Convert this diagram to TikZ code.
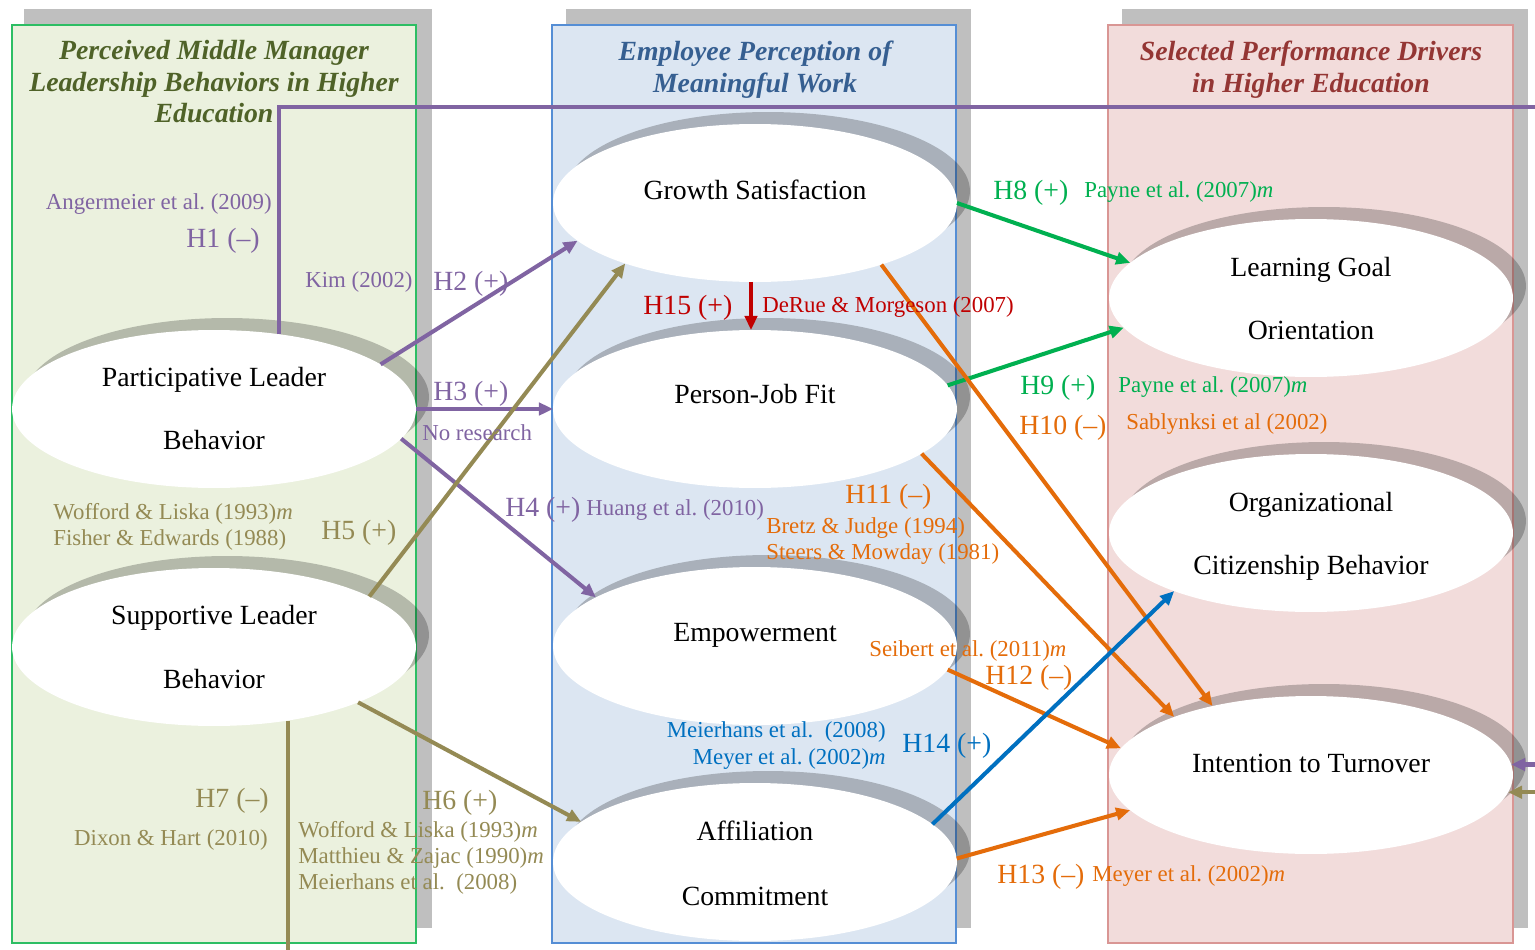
\documentclass[tikz,border=0pt]{standalone}
\usepackage{fontspec}
\setmainfont{Liberation Serif}
\usetikzlibrary{arrows.meta,shapes.geometric,shadows}
\frenchspacing

\definecolor{panelshade}{HTML}{BFBFBF}
\definecolor{leftfill}{HTML}{EBF1DE}
\definecolor{leftline}{HTML}{2DBE64}
\definecolor{midfill}{HTML}{DCE6F2}
\definecolor{midline}{HTML}{558ED5}
\definecolor{rightfill}{HTML}{F2DCDB}
\definecolor{rightline}{HTML}{D99694}
\definecolor{hdolive}{HTML}{4F6228}
\definecolor{hdblue}{HTML}{365F91}
\definecolor{hdred}{HTML}{943634}
\definecolor{cpurple}{HTML}{8064A2}
\definecolor{colive}{HTML}{948A54}
\definecolor{cred}{HTML}{C00000}
\definecolor{cgreen}{HTML}{00B050}
\definecolor{corange}{HTML}{E46C0A}
\definecolor{cblue}{HTML}{0070C0}

\tikzset{
  panelback/.style={fill=panelshade, draw=none},
  construct/.style={ellipse, fill=white, draw=none, minimum width=8.08cm,
    minimum height=3.16cm, inner sep=0pt, outer sep=0pt,
    drop shadow={shadow xshift=0.26cm, shadow yshift=0.24cm, fill=black, opacity=0.23}},
  ctext/.style={font=\fontsize{15.8}{19}\selectfont, inner sep=0pt,
    text height=12.5pt, text depth=1.6pt, text=black},
  hd/.style={font=\fontsize{15.8}{19}\selectfont\bfseries\itshape, inner sep=0pt,
    text height=12.5pt, text depth=1.6pt},
  hyp/.style={font=\fontsize{15.8}{19}\selectfont, inner sep=0pt,
    text height=12.5pt, text depth=1.6pt},
  cite/.style={font=\fontsize{13}{15}\selectfont, inner sep=0pt,
    text height=10.5pt, text depth=1.1pt},
  link/.style={line width=2.3pt, -{Triangle[length=8pt,width=7pt]}},
}

\begin{document}
\begin{tikzpicture}[x=0.02cm, y=-0.02cm]
\useasboundingbox (0,0) rectangle (1535,950);
\clip (0,0) rectangle (1535,950);
\fill[white] (0,0) rectangle (1535,950);

% ---- column panels with their offset backing ----
\fill[panelback] (24,9) rectangle (432,928);
\fill[panelback] (566,9) rectangle (971,928);
\fill[panelback] (1122,9) rectangle (1528,928);
\draw[fill=leftfill, draw=leftline, line width=1.1pt] (12,25) rectangle (416,943);
\draw[fill=midfill, draw=midline, line width=0.8pt] (552,25) rectangle (956,943);
\draw[fill=rightfill, draw=rightline, line width=0.8pt] (1108,25) rectangle (1513,943);

% ---- column headings ----
\node[hd, text=hdolive] (hl1) at (214,50) {Perceived Middle Manager};
\node[hd, text=hdolive] (hl2) at (214,82) {Leadership Behaviors in Higher};
\node[hd, text=hdolive] (hl3) at (214,113) {Education};
\node[hd, text=hdblue] (hm1) at (755,51) {Employee Perception of};
\node[hd, text=hdblue] (hm2) at (755,83) {Meaningful Work};
\node[hd, text=hdred] (hr1) at (1311,51) {Selected Performance Drivers};
\node[hd, text=hdred] (hr2) at (1311,83) {in Higher Education};

% ---- constructs ----
\node[construct] (pl) at (214,409) {};
\node[construct] (sl) at (214,647) {};
\node[construct] (gs) at (755,203) {};
\node[construct] (pj) at (755,409) {};
\node[construct] (em) at (755,646) {};
\node[construct] (ac) at (755,862) {};
\node[construct] (lg) at (1311,298) {};
\node[construct] (ocb) at (1311,533) {};
\node[construct] (it) at (1311,775) {};

\node[ctext] (plt1) at (214,377) {Participative Leader};
\node[ctext] (plt2) at (214,440) {Behavior};
\node[ctext] (slt1) at (214,615) {Supportive Leader};
\node[ctext] (slt2) at (214,679) {Behavior};
\node[ctext] (gst) at (755,190) {Growth Satisfaction};
\node[ctext] (pjt) at (755,394) {Person-Job Fit};
\node[ctext] (emt) at (755,632) {Empowerment};
\node[ctext] (act1) at (755,831) {Affiliation};
\node[ctext] (act2) at (755,896) {Commitment};
\node[ctext] (lgt1) at (1311,267) {Learning Goal};
\node[ctext] (lgt2) at (1311,330) {Orientation};
\node[ctext] (ocbt1) at (1311,502) {Organizational};
\node[ctext] (ocbt2) at (1311,565) {Citizenship Behavior};
\node[ctext] (itt) at (1311,763) {Intention to Turnover};

% ---- turning points of the two long links ----
\coordinate (h1turn) at (1570,107);
\coordinate (h7turn) at (1570,965);

% ---- hypothesised links ----
\draw[cpurple, link] (pl.49.5) |- (h1turn) |- (it.3.4);
\draw[cpurple, link] (pl.15) -- (gs.192.8);
\draw[cpurple, link] (pl.east) -- (pj.west);
\draw[cpurple, link] (pl.-9.6) -- (em.163);
\draw[colive, link] (sl.18.7) -- (gs.205.7);
\draw[colive, link] (sl.-21.4) -- (ac.167.2);
\draw[colive, link] (sl.-45.7) |- (h7turn) |- (it.-5);
\draw[cred, link] ([xshift=-0.08cm]gs.south) -- ([xshift=-0.08cm]pj.north);
\draw[cgreen, link] (gs.-0.6) -- (lg.169);
\draw[cgreen, link] (pj.7.6) -- (lg.189.8);
\draw[corange, link] (gs.-26) -- (it.145);
\draw[corange, link] (pj.-15.5) -- (it.157.4);
\draw[corange, link] (em.-7.5) -- (it.172.9);
\draw[corange, link] (ac.1.1) -- (it.191.4);
\draw[cblue, link] (ac.12.9) -- (ocb.203.2);

% ---- labels: purple ----
\node[cite, text=cpurple, anchor=east] (c1) at (272,201) {Angermeier et al. (2009)};
\node[hyp, text=cpurple, anchor=east] (h1) at (260,238) {H1 (–)};
\node[cite, text=cpurple, anchor=west] (c2) at (305,279) {Kim (2002)};
\node[hyp, text=cpurple, anchor=west] (h2) at (433,281) {H2 (+)};
\node[hyp, text=cpurple, anchor=west] (h3) at (433,391) {H3 (+)};
\node[cite, text=cpurple, anchor=west] (c3) at (422,432) {No research};
\node[hyp, text=cpurple, anchor=west] (h4) at (505,507) {H4 (+)};
\node[cite, text=cpurple, anchor=west] (c4) at (586,507) {Huang et al. (2010)};

% ---- labels: olive ----
\node[cite, text=colive, anchor=west] (c5a) at (53,511) {Wofford \& Liska (1993)\textit{m}};
\node[cite, text=colive, anchor=west] (c5b) at (53,537) {Fisher \& Edwards (1988)};
\node[hyp, text=colive, anchor=west] (h5) at (321,530) {H5 (+)};
\node[hyp, text=colive, anchor=east] (h7) at (269,798) {H7 (–)};
\node[cite, text=colive, anchor=east] (c7) at (268,837) {Dixon \& Hart (2010)};
\node[hyp, text=colive, anchor=west] (h6) at (422,800) {H6 (+)};
\node[cite, text=colive, anchor=west] (c6a) at (298,829) {Wofford \& Liska (1993)\textit{m}};
\node[cite, text=colive, anchor=west] (c6b) at (298,855) {Matthieu \& Zajac (1990)\textit{m}};
\node[cite, text=colive, anchor=west] (c6c) at (298,881) {Meierhans et al.\ \ (2008)};

% ---- labels: red ----
\node[hyp, text=cred, anchor=west] (h15) at (643,305) {H15 (+)};
\node[cite, text=cred, anchor=west] (c15) at (762,304) {DeRue \& Morgeson (2007)};

% ---- labels: green ----
\node[hyp, text=cgreen, anchor=west] (h8) at (993,190) {H8 (+)};
\node[cite, text=cgreen, anchor=west] (c8) at (1084,189) {Payne et al. (2007)\textit{m}};
\node[hyp, text=cgreen, anchor=west] (h9) at (1020,385) {H9 (+)};
\node[cite, text=cgreen, anchor=west] (c9) at (1118,384) {Payne et al. (2007)\textit{m}};

% ---- labels: orange ----
\node[hyp, text=corange, anchor=west] (h10) at (1019,425) {H10 (–)};
\node[cite, text=corange, anchor=west] (c10) at (1126,421) {Sablynksi et al (2002)};
\node[hyp, text=corange, anchor=west] (h11) at (845,494) {H11 (–)};
\node[cite, text=corange, anchor=west] (c11a) at (766,525) {Bretz \& Judge (1994)};
\node[cite, text=corange, anchor=west] (c11b) at (766,551) {Steers \& Mowday (1981)};
\node[cite, text=corange, anchor=west] (c12) at (869,648) {Seibert et al. (2011)\textit{m}};
\node[hyp, text=corange, anchor=west] (h12) at (985,675) {H12 (–)};
\node[hyp, text=corange, anchor=west] (h13) at (997,874) {H13 (–)};
\node[cite, text=corange, anchor=west] (c13) at (1092,873) {Meyer et al. (2002)\textit{m}};

% ---- labels: blue ----
\node[cite, text=cblue, anchor=east] (c14a) at (886,729) {Meierhans et al.\ \ (2008)};
\node[cite, text=cblue, anchor=east] (c14b) at (886,756) {Meyer et al. (2002)\textit{m}};
\node[hyp, text=cblue, anchor=west] (h14) at (902,743) {H14 (+)};
\end{tikzpicture}
\end{document}
